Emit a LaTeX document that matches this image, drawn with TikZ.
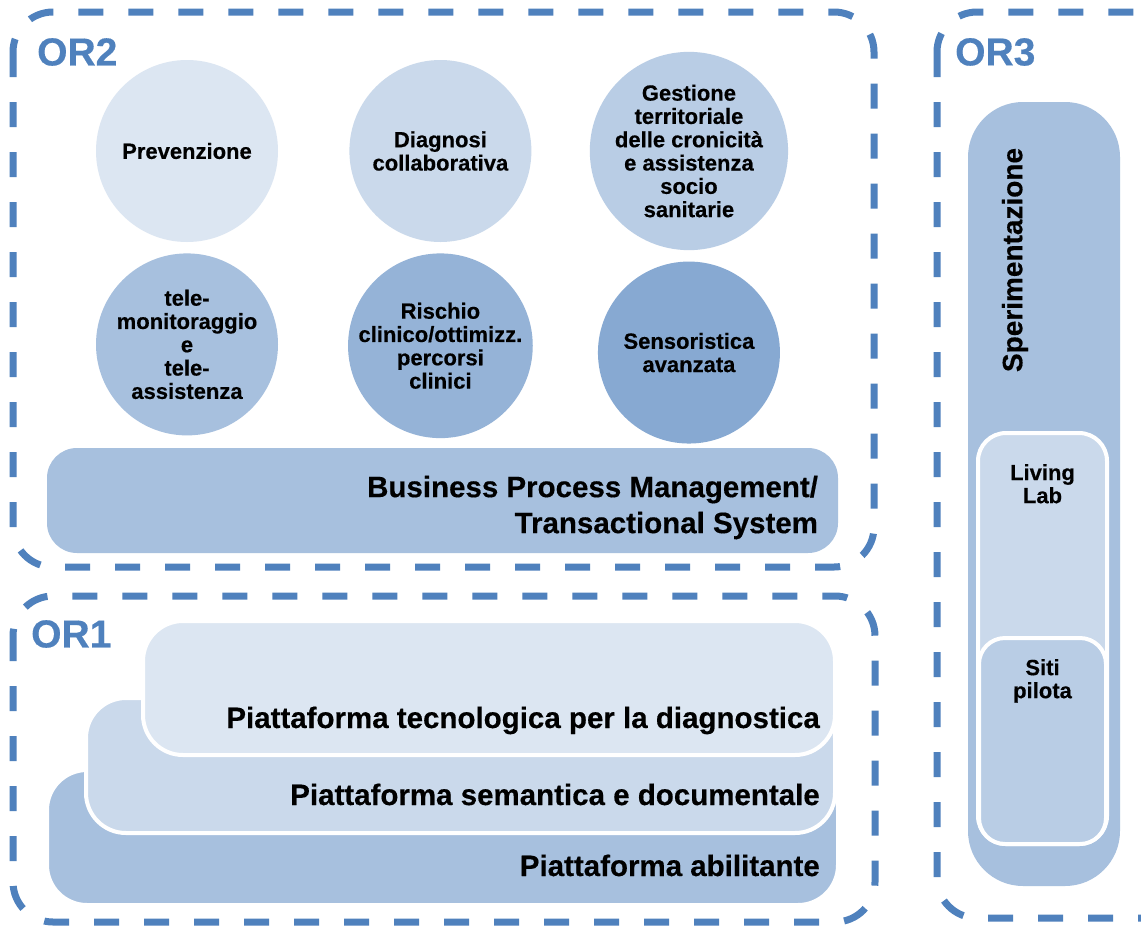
\documentclass[tikz,border=0pt]{standalone}
\usepackage{fontspec}
\setmainfont{Liberation Sans}[BoldFeatures={FakeBold=0.4}]
\usetikzlibrary{positioning}

\definecolor{orblue}{RGB}{79,129,189}

\begin{document}
\begin{tikzpicture}[
        x=1pt, y=-1pt,
        every node/.append style={inner sep=0pt, text=black},
        orframe/.style={draw=orblue, line width=7pt, dash pattern=on 25pt off 25pt, rounded corners=40pt},
        ortitle/.style={text=orblue, anchor=west, font=\fontsize{39}{39}\selectfont\bfseries},
        area/.style={circle, minimum size=182pt, align=center, font=\fontsize{22}{23.3}\selectfont\bfseries},
        platlayer/.style={rectangle, draw=white, line width=4pt, rounded corners=40pt},
        plattext/.style={anchor=base east, font=\fontsize{29.5}{36}\selectfont\bfseries},
        smalltext/.style={anchor=north, align=center, font=\fontsize{22}{23}\selectfont\bfseries}
    ]
        \useasboundingbox (0,0) rectangle (1141,927);
        \fill[white] (0,0) rectangle (1141,927);

        \draw[orframe] (13,12) rectangle (874,567);
        \draw[orframe] (13,596) rectangle (875,922);
        \draw[orframe] (937,12) rectangle (1200,918);

        \node[ortitle] (or2) at (37,52) {OR2};
        \node[ortitle] (or1) at (31,634) {OR1};
        \node[ortitle] (or3) at (955,52) {OR3};

        \node[area, fill=orblue!20] (prev) at (187,151) {Prevenzione};
        \node[area, fill=orblue!30, right=71pt of prev] (diag) {Diagnosi\\collaborativa};
        \node[area, fill=orblue!40, right=58pt of diag] (gest) {Gestione\\territoriale\\delle cronicità\\e assistenza\\socio\\sanitarie};
        \node[area, fill=orblue!50, below=11pt of prev] (tele) {tele-\\monitoraggio\\e\\tele-\\assistenza};
        \node[area, fill=orblue!60, below=11pt of diag] (risk) {Rischio\\clinico/ottimizz.\\percorsi\\clinici};
        \node[area, fill=orblue!68, below=11pt of gest] (sens) {Sensoristica\\avanzata};

        \node[rectangle, rounded corners=30pt, fill=orblue!50, minimum width=791pt, minimum height=105pt] (bpm) at (442.5,500.5) {};
        \node[anchor=east, align=right, font=\fontsize{29.5}{36}\selectfont\bfseries] (bpm-txt) at ([xshift=-20pt, yshift=-7pt]bpm.east)
            {Business Process Management/\\Transactional System};

        \node[platlayer, fill=orblue!50, minimum width=791pt, minimum height=135pt] (abil) at (442.5,837.5) {};
        \node[platlayer, fill=orblue!30, minimum width=749pt, minimum height=135pt] (sema) at (460.5,765.5) {};
        \node[platlayer, fill=orblue!20, minimum width=692pt, minimum height=134pt] (tecn) at (489,688) {};
        \node[plattext] (abil-txt) at ([xshift=-20pt, yshift=31pt]abil.south east) {Piattaforma abilitante};
        \node[plattext] (sema-txt) at ([xshift=-17pt, yshift=30pt]sema.south east) {Piattaforma semantica e documentale};
        \node[plattext] (tecn-txt) at ([xshift=-17pt, yshift=29pt]tecn.south east) {Piattaforma tecnologica per la diagnostica};

        \node[rectangle, rounded corners=55pt, fill=orblue!50, minimum width=152pt, minimum height=784pt] (sper) at (1044,494) {};
        \node[rotate=90, font=\fontsize{28}{28}\selectfont\bfseries] (sper-txt) at (1015,260) {Sperimentazione};
        \node[platlayer, rounded corners=28pt, fill=orblue!30, minimum width=129pt, minimum height=411pt] (lab) at (1042.5,638.5) {};
        \node[platlayer, rounded corners=26pt, fill=orblue!40, minimum width=127pt, minimum height=206pt] (siti) at (1042.5,741) {};
        \node[smalltext] (lab-txt) at ([yshift=-33pt]lab.north) {Living\\Lab};
        \node[smalltext] (siti-txt) at ([yshift=-23pt]siti.north) {Siti\\pilota};
    \end{tikzpicture}
\end{document}
